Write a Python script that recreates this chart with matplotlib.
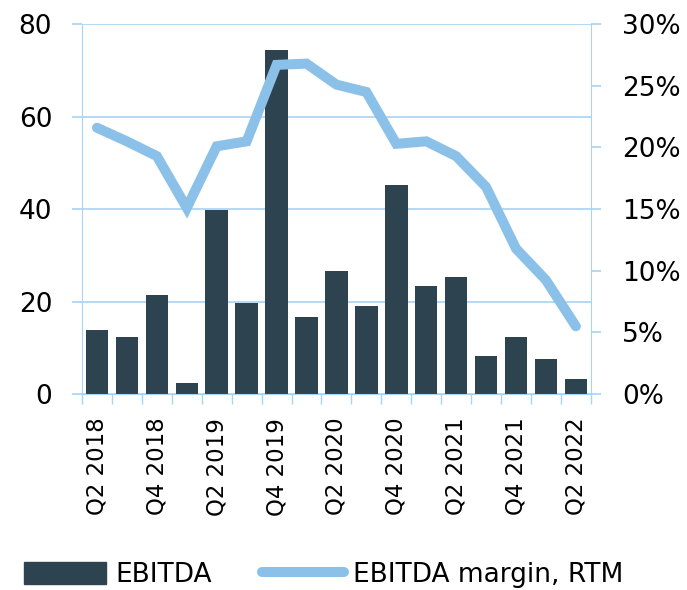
import numpy as np
import matplotlib.pyplot as plt
from matplotlib.lines import Line2D
from matplotlib.patches import Patch

# Dữ liệu
quarters = ["Q2 2018", "Q3 2018", "Q4 2018", "Q1 2019", "Q2 2019", "Q3 2019",
            "Q4 2019", "Q1 2020", "Q2 2020", "Q3 2020", "Q4 2020", "Q1 2021",
            "Q2 2021", "Q3 2021", "Q4 2021", "Q1 2022", "Q2 2022"]
ebitda = [13.8, 12.4, 21.4, 2.3, 39.8, 19.7, 74.5, 16.7, 26.6, 19.0, 45.3,
          23.4, 25.4, 8.2, 12.4, 7.7, 3.2]
margin = [21.6, 20.5, 19.3, 15.1, 20.1, 20.5, 26.7, 26.8, 25.1, 24.5, 20.3,
          20.5, 19.3, 16.8, 11.8, 9.25, 5.5]

bar_color = "#2e4350"
line_color = "#8bc1e9"
grid_color = "#a9d3f2"

plt.rcParams['font.family'] = ['DejaVu Sans']

fig = plt.figure(figsize=(6.87, 5.90), dpi=100)
ax = fig.add_axes([0.1194, 0.332, 0.7406, 0.627])
ax2 = ax.twinx()

x = np.arange(len(quarters))
ax.bar(x, ebitda, width=0.75, color=bar_color, zorder=2)
ax2.plot(x, margin, color=line_color, lw=7.2, solid_capstyle='round',
         solid_joinstyle='miter', zorder=3)

ax.set_xlim(-0.5, len(quarters) - 0.5)
ax.set_ylim(0, 80)
ax2.set_ylim(0, 30)
ax.set_yticks([0, 20, 40, 60, 80])
ax2.set_yticks([0, 5, 10, 15, 20, 25, 30])
ax2.set_yticklabels([f"{v}%" for v in range(0, 31, 5)])

ax.grid(axis='y', color=grid_color, lw=1.2, zorder=0)
ax.set_axisbelow(True)

# Trục x: tick tại ranh giới, nhãn mỗi 2 quý
ax.set_xticks(np.arange(-0.5, len(quarters)), minor=False)
ax.set_xticklabels([])
ax.set_xticks(x[::2], minor=True)
ax.set_xticklabels(quarters[::2], minor=True, rotation=90)
ax.tick_params(axis='x', which='major', length=7.5, width=1, color=grid_color)
ax.tick_params(axis='x', which='minor', length=0, pad=17, labelsize=16.5)

ax.tick_params(axis='y', length=7.5, width=1.2, color=grid_color, pad=14,
               labelsize=19)
ax2.tick_params(axis='y', length=7.5, width=1.2, color=grid_color, pad=15,
                labelsize=19)

for a in (ax, ax2):
    for s in a.spines.values():
        s.set_visible(False)
ax.spines['left'].set_visible(True)
ax.spines['left'].set_color(grid_color)
ax2.spines['right'].set_visible(True)
ax2.spines['right'].set_color(grid_color)
ax.spines['bottom'].set_visible(True)
ax.spines['bottom'].set_color(grid_color)

handles = [Patch(color=bar_color),
           Line2D([0], [0], color=line_color, lw=7.2, solid_capstyle='round')]
fig.legend(handles, ["EBITDA", "EBITDA margin, RTM"], loc='center left',
           bbox_to_anchor=(0.035, 0.026), ncol=2, frameon=False, fontsize=19,
           handlelength=3.1, handleheight=0.9, handletextpad=0.35,
           columnspacing=1.9, borderaxespad=0, borderpad=0)

fig.savefig("out.png", dpi=100)
